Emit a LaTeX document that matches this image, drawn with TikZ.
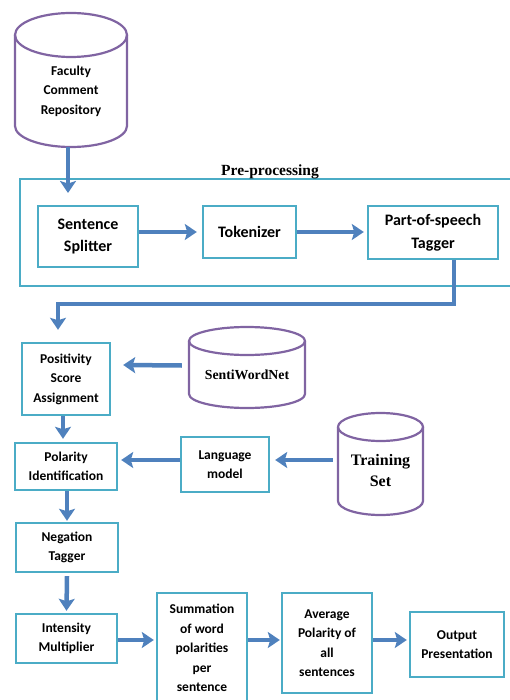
\documentclass[tikz,border=0pt]{standalone}
\usepackage{fontspec}
\setmainfont{Carlito}
\newfontfamily\timesf{Liberation Serif}
\usetikzlibrary{arrows.meta}
\definecolor{boxteal}{HTML}{4BACC6}
\definecolor{arrblue}{HTML}{4F81BD}
\definecolor{cylpurple}{HTML}{8064A2}
\tikzset{
  procbox/.style={draw=boxteal, line width=2.4pt, rectangle, align=center, inner sep=0pt,
    font=\fontsize{13.5}{19.5}\selectfont\bfseries},
  prebox/.style={procbox, font=\fontsize{16}{22.5}\selectfont\bfseries},
  cylbody/.style={inner sep=0pt, align=center},
  cylline/.style={draw=cylpurple, line width=2.2pt},
  flow/.style={draw=arrblue, line width=4.5pt, -{Stealth[length=12pt,width=16pt,inset=2.5pt]}},
  serifbold/.style={font=\timesf\bfseries\fontsize{#1}{21}\selectfont}
}
\begin{document}
\begin{tikzpicture}[x=1pt,y=1pt]
\useasboundingbox (0,0) rectangle (510,-700);

% cylinders
\node[cylbody, minimum width=112pt, minimum height=112pt, font=\fontsize{13.5}{19.5}\selectfont\bfseries] (fac) at (71,-91) {Faculty\\Comment\\Repository};
\draw[cylline] (71,-35) ellipse [x radius=56, y radius=22];
\draw[cylline] (15,-35) -- (15,-126) arc[start angle=180, end angle=360, x radius=56, y radius=21] -- (127,-35);

\node[cylbody, minimum width=116pt, minimum height=67pt, serifbold=13.8] (swn) at (247,-374.5) {SentiWordNet};
\draw[cylline] (247,-341) ellipse [x radius=58, y radius=14];
\draw[cylline] (189,-341) -- (189,-394) arc[start angle=180, end angle=360, x radius=58, y radius=14] -- (305,-341);

\node[cylbody, minimum width=85pt, minimum height=88pt, serifbold=16] (ts) at (380.5,-471) {Training\\Set};
\draw[cylline] (380.5,-427) ellipse [x radius=42.5, y radius=14];
\draw[cylline] (338,-427) -- (338,-501) arc[start angle=180, end angle=360, x radius=42.5, y radius=14] -- (423,-427);

% pre-processing group
\node[draw=boxteal, line width=2.4pt, minimum width=510pt, minimum height=107pt, inner sep=0pt] (pre) at (275,-232.5) {};
\node[serifbold=15.5] (prelabel) at (270,-171.5) {Pre-processing};

% process boxes
\node[prebox, minimum width=100pt, minimum height=61pt] (ss) at (88,-236.5) {Sentence\\Splitter};
\node[prebox, minimum width=93pt, minimum height=52pt] (tok) at (249.5,-232) {Tokenizer};
\node[prebox, minimum width=130pt, minimum height=53pt] (pos) at (433,-232.5) {Part-of-speech\\Tagger};
\node[procbox, minimum width=88pt, minimum height=72pt] (pa) at (66,-379) {Positivity\\Score\\Assignment};
\node[procbox, minimum width=102pt, minimum height=47pt] (pi) at (66,-466.5) {Polarity\\Identification};
\node[procbox, minimum width=88pt, minimum height=55pt] (lm) at (225,-464.5) {Language\\model};
\node[procbox, minimum width=102pt, minimum height=49pt] (nt) at (67,-547.5) {Negation\\Tagger};
\node[procbox, minimum width=101pt, minimum height=49pt] (im) at (66.5,-638.5) {Intensity\\Multiplier};
\node[procbox, minimum width=90pt, minimum height=110pt] (sum) at (202,-648) {Summation\\of word\\polarities\\per\\sentence};
\node[procbox, minimum width=90pt, minimum height=100pt] (avg) at (327,-643) {Average\\Polarity of\\all\\sentences};
\node[procbox, minimum width=94pt, minimum height=65pt] (out) at (457,-644.5) {Output\\Presentation};

% connectors
\coordinate (pin) at (68,-193);
\coordinate (turn) at (58,-304);
\draw[flow] ([xshift=-3pt]fac.south) -- (pin);
\draw[flow] (tok.west -| ss.east) -- ([xshift=-5pt]tok.west);
\draw[flow] (tok.east) -- ([xshift=-3pt]tok.east -| pos.west);
\draw[flow] ([xshift=21pt]pos.south) |- (turn) -- ([xshift=-8pt,yshift=12pt]pa.north);
\draw[flow] ([xshift=-7pt,yshift=9pt]swn.west) -- ([xshift=12pt,yshift=14pt]pa.east);
\draw[flow] ([xshift=-3pt]pa.south) -- ([xshift=-3pt,yshift=3pt]pi.north);
\draw[flow] ([yshift=4.5pt]lm.west) -- ([xshift=3pt,yshift=6.5pt]pi.east);
\draw[flow] ([xshift=-5pt,yshift=11pt]ts.west) -- ([xshift=5pt,yshift=4.5pt]lm.east);
\draw[flow] (pi.south -| nt.south) -- ([yshift=1pt]nt.north);
\draw[flow] ([yshift=-3pt]nt.south) -- ([yshift=2pt]im.north);
\draw[flow] ([yshift=-1.5pt]im.east) -- ([xshift=-2pt,yshift=-1.5pt]im.east -| sum.west);
\draw[flow] ([yshift=-1.5pt]im.east -| sum.east) -- ([xshift=-1pt,yshift=-1.5pt]im.east -| avg.west);
\draw[flow] ([yshift=-1.5pt]im.east -| avg.east) -- ([xshift=-2pt,yshift=-1.5pt]im.east -| out.west);
\end{tikzpicture}
\end{document}
